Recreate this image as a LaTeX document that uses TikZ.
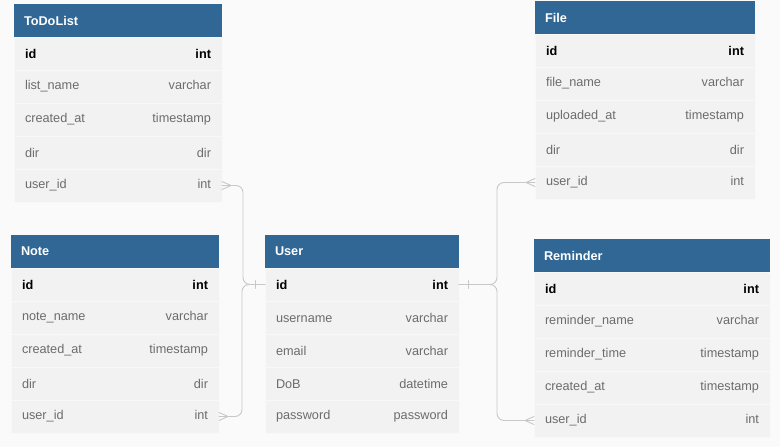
\documentclass[tikz,border=0pt]{standalone}
\usepackage{fontspec}
\setmainfont{Liberation Sans}
\usetikzlibrary{positioning}
\definecolor{hdrblue}{RGB}{49,103,149}
\definecolor{rowgray}{RGB}{242,242,242}
\definecolor{bggray}{RGB}{250,250,250}
\definecolor{txtgray}{RGB}{108,108,108}
\definecolor{linegray}{RGB}{200,200,200}

\begin{document}
\begin{tikzpicture}[line cap=round,line join=round,x=1pt,y=-1pt,
  hdr/.style={fill=hdrblue,text=white,font=\fontsize{12.7}{15}\selectfont\bfseries,
    minimum height=33pt,inner ysep=0pt,inner xsep=10pt,outer sep=0pt,align=left,text width=#1},
  row/.style={fill=rowgray,draw=rowgray!55!white,line width=0.4pt,text=txtgray,
    font=\fontsize{12.7}{15}\selectfont,minimum height=33pt,inner ysep=0pt,inner xsep=11pt,
    outer sep=0pt,align=left,text width=#1},
  keyrow/.style={row=#1,text=black,font=\fontsize{12.7}{15}\selectfont\bfseries},
  rel/.style={draw=linegray,line width=0.9pt,rounded corners=7pt},
  foot/.style={draw=linegray,line width=0.9pt,sharp corners}]
\fill[bggray] (0,0) rectangle (780,447);
% ToDoList
\node[hdr=188pt,anchor=north west] (todo) at (14,4) {ToDoList};
\node[keyrow=186pt,below=0pt of todo] (todoid) {id\hfill int};
\node[row=186pt,below=0pt of todoid] (todoname) {list\_name\hfill varchar};
\node[row=186pt,below=0pt of todoname] (todocreated) {created\_at\hfill timestamp};
\node[row=186pt,below=0pt of todocreated] (tododir) {dir\hfill dir};
\node[row=186pt,below=0pt of tododir] (todouid) {user\_id\hfill int};
% Note
\node[hdr=188pt,anchor=north west] (note) at (11,235) {Note};
\node[keyrow=186pt,below=0pt of note] (noteid) {id\hfill int};
\node[row=186pt,below=0pt of noteid] (notename) {note\_name\hfill varchar};
\node[row=186pt,below=0pt of notename] (notecreated) {created\_at\hfill timestamp};
\node[row=186pt,below=0pt of notecreated] (notedir) {dir\hfill dir};
\node[row=186pt,below=0pt of notedir] (noteuid) {user\_id\hfill int};
% User
\node[hdr=174pt,anchor=north west] (user) at (265,235) {User};
\node[keyrow=172pt,below=0pt of user] (userid) {id\hfill int};
\node[row=172pt,below=0pt of userid] (username) {username\hfill varchar};
\node[row=172pt,below=0pt of username] (useremail) {email\hfill varchar};
\node[row=172pt,below=0pt of useremail] (userdob) {DoB\hfill datetime};
\node[row=172pt,below=0pt of userdob] (userpw) {password\hfill password};
% File
\node[hdr=200pt,anchor=north west] (file) at (535,1) {File};
\node[keyrow=198pt,below=0pt of file] (fileid) {id\hfill int};
\node[row=198pt,below=0pt of fileid] (filename) {file\_name\hfill varchar};
\node[row=198pt,below=0pt of filename] (fileupl) {uploaded\_at\hfill timestamp};
\node[row=198pt,below=0pt of fileupl] (filedir) {dir\hfill dir};
\node[row=198pt,below=0pt of filedir] (fileuid) {user\_id\hfill int};
% Reminder
\node[hdr=216pt,anchor=north west] (rem) at (534,239) {Reminder};
\node[keyrow=214pt,below=0pt of rem] (remid) {id\hfill int};
\node[row=214pt,below=0pt of remid] (remname) {reminder\_name\hfill varchar};
\node[row=214pt,below=0pt of remname] (remtime) {reminder\_time\hfill timestamp};
\node[row=214pt,below=0pt of remtime] (remcreated) {created\_at\hfill timestamp};
\node[row=214pt,below=0pt of remcreated] (remuid) {user\_id\hfill int};
% relations
\draw[rel] (todouid.east) -- ++(21,0) |- (userid.west);
\draw[rel] (noteuid.east) -- ++(23,0) |- (userid.west);
\draw[rel] (userid.east) -- ++(38,0) |- (fileuid.west);
\draw[rel] (userid.east) -- ++(38,0) |- (remuid.west);
% crow's feet and bars
\draw[foot] ([yshift=-4pt]todouid.east) -- ([xshift=9pt]todouid.east) -- ([yshift=4pt]todouid.east);
\draw[foot] ([yshift=-4pt]noteuid.east) -- ([xshift=9pt]noteuid.east) -- ([yshift=4pt]noteuid.east);
\draw[foot] ([yshift=-4pt]fileuid.west) -- ([xshift=-9pt]fileuid.west) -- ([yshift=4pt]fileuid.west);
\draw[foot] ([yshift=-4pt]remuid.west) -- ([xshift=-9pt]remuid.west) -- ([yshift=4pt]remuid.west);
\draw[foot] ([xshift=-10pt,yshift=-4pt]userid.west) -- ([xshift=-10pt,yshift=4pt]userid.west);
\draw[foot] ([xshift=9pt,yshift=-4pt]userid.east) -- ([xshift=9pt,yshift=4pt]userid.east);
\end{tikzpicture}
\end{document}
